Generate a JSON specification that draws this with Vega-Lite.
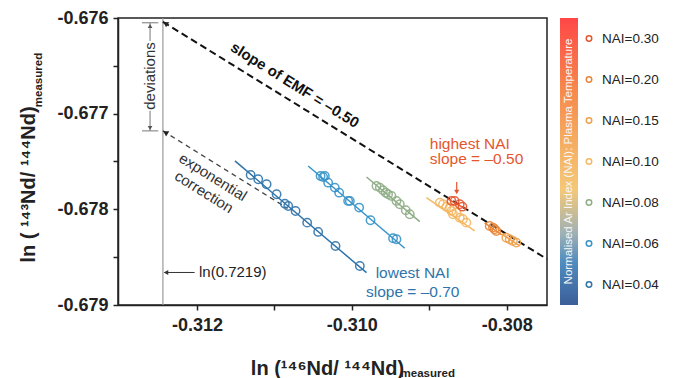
{
  "$schema": "https://vega.github.io/schema/vega-lite/v6.json",
  "padding": {"left": 17, "top": 8, "right": 0, "bottom": 0},
  "spacing": 11,
  "config": {
    "font": "Liberation Sans",
    "view": {"stroke": "#222", "strokeWidth": 1.5},
    "axis": {"grid": false, "domainColor": "#222", "domainWidth": 1.5, "tickColor": "#222", "tickWidth": 1.5, "tickSize": 5,
             "labelFont": "Liberation Sans", "labelFontSize": 18, "labelFontWeight": "bold", "labelColor": "#222",
             "titleFont": "Liberation Sans", "titleFontSize": 20, "titleFontWeight": "bold", "titleColor": "#222"}
  },
  "datasets": {
    "pts": [
      {"nai": "NAI=0.04", "x": -0.311307, "y": -0.677641},
      {"nai": "NAI=0.04", "x": -0.311209, "y": -0.677686},
      {"nai": "NAI=0.04", "x": -0.311101, "y": -0.677738},
      {"nai": "NAI=0.04", "x": -0.310972, "y": -0.677842},
      {"nai": "NAI=0.04", "x": -0.310865, "y": -0.677941},
      {"nai": "NAI=0.04", "x": -0.310822, "y": -0.677965},
      {"nai": "NAI=0.04", "x": -0.310727, "y": -0.678017},
      {"nai": "NAI=0.04", "x": -0.310577, "y": -0.678139},
      {"nai": "NAI=0.04", "x": -0.310435, "y": -0.678236},
      {"nai": "NAI=0.04", "x": -0.310211, "y": -0.678383},
      {"nai": "NAI=0.04", "x": -0.309897, "y": -0.678592},
      {"nai": "NAI=0.06", "x": -0.310404, "y": -0.677651},
      {"nai": "NAI=0.06", "x": -0.310371, "y": -0.677662},
      {"nai": "NAI=0.06", "x": -0.310349, "y": -0.677651},
      {"nai": "NAI=0.06", "x": -0.310306, "y": -0.677721},
      {"nai": "NAI=0.06", "x": -0.31022, "y": -0.677773},
      {"nai": "NAI=0.06", "x": -0.310164, "y": -0.677826},
      {"nai": "NAI=0.06", "x": -0.310048, "y": -0.677912},
      {"nai": "NAI=0.06", "x": -0.310026, "y": -0.677912},
      {"nai": "NAI=0.06", "x": -0.309906, "y": -0.677982},
      {"nai": "NAI=0.06", "x": -0.309759, "y": -0.678114},
      {"nai": "NAI=0.06", "x": -0.309468, "y": -0.678302},
      {"nai": "NAI=0.06", "x": -0.309424, "y": -0.678313},
      {"nai": "NAI=0.08", "x": -0.309682, "y": -0.677756},
      {"nai": "NAI=0.08", "x": -0.309639, "y": -0.677773},
      {"nai": "NAI=0.08", "x": -0.309597, "y": -0.6778},
      {"nai": "NAI=0.08", "x": -0.309562, "y": -0.677826},
      {"nai": "NAI=0.08", "x": -0.309532, "y": -0.677842},
      {"nai": "NAI=0.08", "x": -0.309488, "y": -0.67786},
      {"nai": "NAI=0.08", "x": -0.309424, "y": -0.677912},
      {"nai": "NAI=0.08", "x": -0.309381, "y": -0.677947},
      {"nai": "NAI=0.08", "x": -0.309304, "y": -0.67801},
      {"nai": "NAI=0.08", "x": -0.309252, "y": -0.678051},
      {"nai": "NAI=0.10", "x": -0.308865, "y": -0.67793},
      {"nai": "NAI=0.10", "x": -0.308823, "y": -0.677947},
      {"nai": "NAI=0.10", "x": -0.308779, "y": -0.677972},
      {"nai": "NAI=0.10", "x": -0.308736, "y": -0.677982},
      {"nai": "NAI=0.10", "x": -0.308714, "y": -0.678017},
      {"nai": "NAI=0.10", "x": -0.308694, "y": -0.678051},
      {"nai": "NAI=0.10", "x": -0.30865, "y": -0.678035},
      {"nai": "NAI=0.10", "x": -0.308607, "y": -0.678087},
      {"nai": "NAI=0.10", "x": -0.308565, "y": -0.678104},
      {"nai": "NAI=0.10", "x": -0.308521, "y": -0.678139},
      {"nai": "NAI=0.30", "x": -0.308714, "y": -0.677912},
      {"nai": "NAI=0.30", "x": -0.308672, "y": -0.677912},
      {"nai": "NAI=0.30", "x": -0.308607, "y": -0.677947},
      {"nai": "NAI=0.30", "x": -0.308572, "y": -0.677972},
      {"nai": "NAI=0.20", "x": -0.30822, "y": -0.678174},
      {"nai": "NAI=0.20", "x": -0.308178, "y": -0.678191},
      {"nai": "NAI=0.20", "x": -0.308156, "y": -0.678208},
      {"nai": "NAI=0.20", "x": -0.308134, "y": -0.678226},
      {"nai": "NAI=0.15", "x": -0.308005, "y": -0.678296},
      {"nai": "NAI=0.15", "x": -0.307962, "y": -0.678313},
      {"nai": "NAI=0.15", "x": -0.30792, "y": -0.67833},
      {"nai": "NAI=0.15", "x": -0.307876, "y": -0.678348}
    ],
    "fits": [
      {"nai": "NAI=0.04", "x": -0.31151, "y": -0.677494, "x2": -0.309811, "y2": -0.678662},
      {"nai": "NAI=0.06", "x": -0.310564, "y": -0.677547, "x2": -0.309317, "y2": -0.678407},
      {"nai": "NAI=0.08", "x": -0.309811, "y": -0.677662, "x2": -0.309123, "y2": -0.678129},
      {"nai": "NAI=0.10", "x": -0.309037, "y": -0.677878, "x2": -0.308414, "y2": -0.678226},
      {"nai": "NAI=0.30", "x": -0.308762, "y": -0.677891, "x2": -0.30853, "y2": -0.677996},
      {"nai": "NAI=0.20", "x": -0.308285, "y": -0.678142, "x2": -0.308065, "y2": -0.678268},
      {"nai": "NAI=0.15", "x": -0.308065, "y": -0.678257, "x2": -0.307833, "y2": -0.678383}
    ],
    "legend": [
      {"nai": "NAI=0.30"}, {"nai": "NAI=0.20"}, {"nai": "NAI=0.15"}, {"nai": "NAI=0.10"},
      {"nai": "NAI=0.08"}, {"nai": "NAI=0.06"}, {"nai": "NAI=0.04"}
    ]
  },
  "hconcat": [
    {
      "width": 429,
      "height": 287,
      "encoding": {
        "x": {"field": "x", "type": "quantitative", "scale": {"domain": [-0.31302, -0.30748], "nice": false, "zero": false},
              "axis": {"title": "ln (¹⁴⁶Nd/ ¹⁴⁴Nd)", "titleX": 209, "titleY": 69, "titleBaseline": "alphabetic",
                       "values": [-0.312, -0.311, -0.31, -0.309, -0.308], "labelPadding": 6,
                       "labelExpr": "round(datum.value*1000) % 2 == 0 ? replace(format(datum.value, '.3f'), '\u2212', '-') : ''"}},
        "y": {"field": "y", "type": "quantitative", "scale": {"domain": [-0.679, -0.676], "nice": false, "zero": false},
              "axis": {"title": "ln ( ¹⁴³Nd/ ¹⁴⁴Nd)", "titleX": -84, "titleY": 166, "titleBaseline": "alphabetic", "titleAngle": 270,
                       "values": [-0.679, -0.6785, -0.678, -0.6775, -0.677, -0.6765, -0.676], "labelPadding": 5,
                       "labelExpr": "round(datum.value*2000) % 2 == 0 ? replace(format(datum.value, '.3f'), '\u2212', '-') : ''"}}
      },
      "layer": [
        {
          "data": {"values": [{"x": -0.31244}]},
          "mark": {"type": "rule", "color": "#999", "strokeWidth": 1.2},
          "encoding": {"y": null}
        },
        {
          "data": {"values": [
            {"x": -0.312606, "y": -0.67605, "x2": -0.312606, "y2": -0.67624},
            {"x": -0.312606, "y": -0.67697, "x2": -0.312606, "y2": -0.67718},
            {"x": -0.31271, "y": -0.67605, "x2": -0.3125, "y2": -0.67605},
            {"x": -0.31271, "y": -0.67718, "x2": -0.3125, "y2": -0.67718}
          ]},
          "mark": {"type": "rule", "color": "#777", "strokeWidth": 1},
          "encoding": {"x2": {"field": "x2"}, "y2": {"field": "y2"}}
        },
        {
          "data": {"values": [{"x": -0.31242, "y": -0.67866, "x2": -0.31203, "y2": -0.67866}]},
          "mark": {"type": "rule", "color": "#333", "strokeWidth": 1},
          "encoding": {"x2": {"field": "x2"}, "y2": {"field": "y2"}}
        },
        {
          "data": {"values": [{"x": -0.31244, "y": -0.67604, "x2": -0.30748, "y2": -0.67852}]},
          "mark": {"type": "rule", "color": "#111", "strokeWidth": 2, "strokeDash": [7, 4]},
          "encoding": {"x2": {"field": "x2"}, "y2": {"field": "y2"}}
        },
        {
          "data": {"values": [{"x": -0.31244, "y": -0.67718, "x2": -0.31083, "y2": -0.67799}]},
          "mark": {"type": "rule", "color": "#444", "strokeWidth": 1.3, "strokeDash": [5, 4]},
          "encoding": {"x2": {"field": "x2"}, "y2": {"field": "y2"}}
        },
        {
          "data": {"name": "fits"},
          "mark": {"type": "rule", "strokeWidth": 1.5},
          "encoding": {"x2": {"field": "x2"}, "y2": {"field": "y2"},
                       "color": {"field": "nai", "type": "nominal", "legend": null,
                                 "scale": {"domain": ["NAI=0.30", "NAI=0.20", "NAI=0.15", "NAI=0.10", "NAI=0.08", "NAI=0.06", "NAI=0.04"],
                                           "range": ["#e5562e", "#e8873a", "#efa04c", "#f5b863", "#8fad86", "#3793c8", "#2f74aa"]}}}
        },
        {
          "data": {"name": "pts"},
          "mark": {"type": "point", "shape": "circle", "filled": false, "size": 70, "strokeWidth": 1.5, "opacity": 0.9},
          "encoding": {
            "color": {"field": "nai", "type": "nominal", "legend": null}
          }
        },
        {
          "data": {"values": [{"x": -0.312407, "y": -0.676057}, {"x": -0.312407, "y": -0.677197}]},
          "mark": {"type": "point", "shape": "triangle-up", "filled": true, "size": 36, "angle": 301.7, "color": "#222", "opacity": 1}
        },
        {
          "data": {"values": [{"x": -0.312606, "y": -0.676084}]},
          "mark": {"type": "point", "shape": "triangle-up", "filled": true, "size": 22, "color": "#555", "opacity": 1}
        },
        {
          "data": {"values": [{"x": -0.312606, "y": -0.67715}]},
          "mark": {"type": "point", "shape": "triangle-up", "filled": true, "size": 22, "angle": 180, "color": "#555", "opacity": 1}
        },
        {
          "data": {"values": [{"x": -0.3124, "y": -0.67866}]},
          "mark": {"type": "point", "shape": "triangle-up", "filled": true, "size": 26, "angle": 270, "color": "#333", "opacity": 1}
        },
        {
          "data": {"values": [{"x": -0.308646, "y": -0.677714, "x2": -0.308646, "y2": -0.677808}]},
          "mark": {"type": "rule", "color": "#e5562e", "strokeWidth": 1.2},
          "encoding": {"x2": {"field": "x2"}, "y2": {"field": "y2"}}
        },
        {
          "data": {"values": [{"x": -0.308646, "y": -0.677818}]},
          "mark": {"type": "point", "shape": "triangle-up", "filled": true, "size": 26, "angle": 180, "color": "#e5562e", "opacity": 1}
        },
        {
          "data": {"values": [{"x": -0.310736, "y": -0.6767, "label": "slope of EMF = –0.50"}]},
          "mark": {"type": "text", "angle": 32, "fontSize": 15, "fontWeight": "bold", "color": "#111", "baseline": "middle"},
          "encoding": {"text": {"field": "label"}}
        },
        {
          "data": {"values": [
            {"x": -0.311794, "y": -0.677662, "label": "exponential"},
            {"x": -0.31191, "y": -0.677818, "label": "correction"}
          ]},
          "mark": {"type": "text", "angle": 32, "fontSize": 15, "color": "#333", "baseline": "middle"},
          "encoding": {"text": {"field": "label"}}
        },
        {
          "data": {"values": [{"x": -0.312606, "y": -0.676606, "label": "deviations"}]},
          "mark": {"type": "text", "angle": 270, "fontSize": 15, "color": "#333", "baseline": "middle"},
          "encoding": {"text": {"field": "label"}}
        },
        {
          "data": {"values": [{"x": -0.312, "y": -0.67866, "label": "ln(0.7219)"}]},
          "mark": {"type": "text", "fontSize": 15, "color": "#222", "baseline": "middle", "align": "left", "dx": 2},
          "encoding": {"text": {"field": "label"}}
        },
        {
          "data": {"values": [
            {"x": -0.308994, "y": -0.677317, "label": "highest NAI"},
            {"x": -0.308994, "y": -0.677478, "label": "slope = –0.50"}
          ]},
          "mark": {"type": "text", "fontSize": 15.5, "color": "#e5562e", "baseline": "middle", "align": "left"},
          "encoding": {"text": {"field": "label"}}
        },
        {
          "data": {"values": [
            {"x": -0.309214, "y": -0.678665, "label": "lowest NAI"},
            {"x": -0.309214, "y": -0.678868, "label": "slope = –0.70"}
          ]},
          "mark": {"type": "text", "fontSize": 15.5, "color": "#2f74aa", "baseline": "middle", "align": "center"},
          "encoding": {"text": {"field": "label"}}
        },
        {
          "data": {"values": [{"x": -0.30902, "y": -0.679752, "label": "measured"}]},
          "mark": {"type": "text", "fontSize": 11.5, "fontWeight": "bold", "color": "#222", "baseline": "alphabetic", "align": "center"},
          "encoding": {"text": {"field": "label"}}
        },
        {
          "data": {"values": [{"x": -0.314, "y": -0.676648, "label": "measured"}]},
          "mark": {"type": "text", "angle": 270, "fontSize": 11.5, "fontWeight": "bold", "color": "#222", "baseline": "alphabetic", "align": "center"},
          "encoding": {"text": {"field": "label"}}
        }
      ]
    },
    {
      "spacing": 5,
      "hconcat": [
        {
          "width": 18,
          "height": 287,
          "view": {"stroke": null},
          "data": {"values": [{"label": "Normalised Ar Index (NAI): Plasma Temperature"}]},
          "layer": [
            {
              "mark": {"type": "rect", "color": {"gradient": "linear", "x1": 0, "y1": 0, "x2": 0, "y2": 1,
                        "stops": [{"offset": 0, "color": "#ff4747"}, {"offset": 0.25, "color": "#f6894c"},
                                  {"offset": 0.45, "color": "#f5b064"}, {"offset": 0.6, "color": "#f4c878"},
                                  {"offset": 0.75, "color": "#9fb1b4"}, {"offset": 0.85, "color": "#4f8cc0"},
                                  {"offset": 1, "color": "#3b5e98"}]}},
              "encoding": {}
            },
            {
              "mark": {"type": "text", "angle": 270, "fontSize": 11.5, "color": "#f6f6f6", "baseline": "middle", "align": "center"},
              "encoding": {"text": {"field": "label"}}
            }
          ]
        },
        {
          "width": 2,
          "height": 287,
          "view": {"stroke": null},
          "data": {"name": "legend"},
          "encoding": {
            "y": {"field": "nai", "type": "nominal", "axis": null,
                  "scale": {"domain": ["NAI=0.30", "NAI=0.20", "NAI=0.15", "NAI=0.10", "NAI=0.08", "NAI=0.06", "NAI=0.04"]}}
          },
          "layer": [
            {
              "mark": {"type": "point", "shape": "circle", "filled": false, "size": 30, "strokeWidth": 1.5, "opacity": 1},
              "encoding": {"color": {"field": "nai", "type": "nominal", "legend": null}}
            },
            {
              "mark": {"type": "text", "align": "left", "baseline": "middle", "dx": 13, "fontSize": 13.5, "color": "#222"},
              "encoding": {"text": {"field": "nai"}}
            }
          ]
        }
      ]
    }
  ]
}
